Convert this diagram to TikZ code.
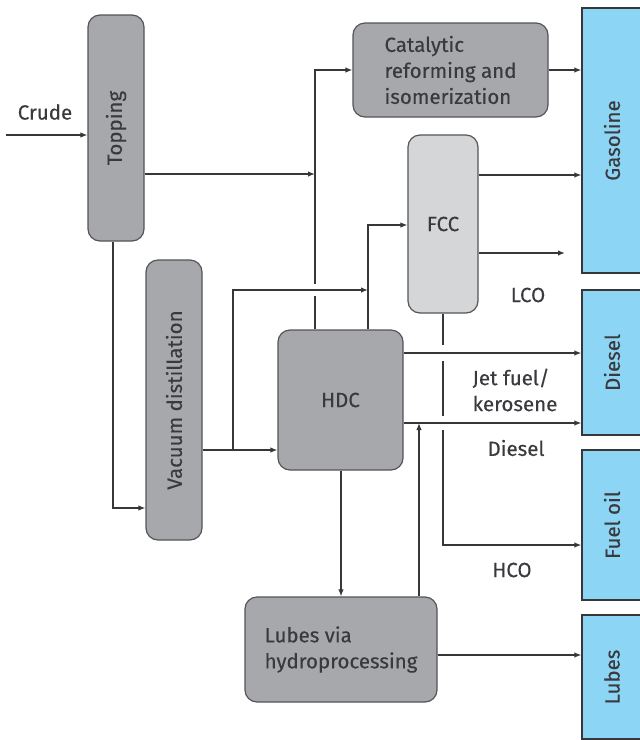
\documentclass[tikz,border=0pt]{standalone}
\usepackage{fontspec}
\setmainfont{Fira Sans}[UprightFeatures={FakeBold=0.3}]
\usetikzlibrary{arrows.meta}
\definecolor{unitgray}{RGB}{167,168,172}
\definecolor{fccgray}{RGB}{213,214,216}
\definecolor{edgegray}{RGB}{85,85,88}
\definecolor{linegray}{RGB}{55,55,58}
\definecolor{textgray}{RGB}{58,58,62}
\definecolor{prodblue}{RGB}{141,213,245}
\newcommand{\flowfont}{\fontsize{20.5}{26}\selectfont}
\tikzset{
  unit/.style={draw=edgegray, line width=1.2pt, fill=unitgray, rounded corners=12pt,
               inner sep=0pt, text=textgray, font=\flowfont},
  product/.style={draw=linegray, line width=1.3pt, fill=prodblue, inner sep=0pt,
                  text=textgray, font=\flowfont},
  flow/.style={draw=linegray, line width=1.3pt, -{Latex[length=7pt,width=5.5pt]}},
  lbl/.style={text=textgray, inner sep=0pt, font=\flowfont}
}
\begin{document}
\begin{tikzpicture}[x=1pt,y=-1pt]
\useasboundingbox (0,0) rectangle (640,740);

% process units
\node[unit, minimum width=56pt, minimum height=226pt] (top) at (116,128) {\rotatebox{90}{Topping}};
\node[unit, minimum width=195pt, minimum height=94pt, align=left] (cat) at (450.5,70)
  {Catalytic\\reforming and\\isomerization};
\node[unit, fill=fccgray, minimum width=70pt, minimum height=178pt] (fcc) at (443,224) {FCC};
\node[unit, minimum width=56pt, minimum height=280pt] (vac) at (174,400) {\rotatebox{90}{Vacuum distillation}};
\node[unit, minimum width=125pt, minimum height=140pt] (hdc) at (340.5,400) {HDC};
\node[unit, minimum width=192pt, minimum height=105pt, align=left] (lpr) at (341,649.5)
  {Lubes via\\hydroprocessing};

% product pools
\node[product, minimum width=60pt, minimum height=265pt] (gas) at (612,140.5) {\rotatebox{90}{Gasoline}};
\node[product, minimum width=60pt, minimum height=145pt] (die) at (612,362.5) {\rotatebox{90}{Diesel}};
\node[product, minimum width=60pt, minimum height=150pt] (fue) at (612,525) {\rotatebox{90}{Fuel oil}};
\node[product, minimum width=60pt, minimum height=124pt] (lub) at (612,677) {\rotatebox{90}{Lubes}};

% stream labels
\node[lbl] (crude) at (45,112) {Crude};
\node[lbl] (lco) at (528,295) {LCO};
\node[lbl, align=left] (jet) at (515,390) {Jet fuel/\\kerosene};
\node[lbl] (dsl) at (516,448) {Diesel};
\node[lbl] (hco) at (512,570) {HCO};

% junctions and free ends
\coordinate (crudeIn) at (6,135);
\coordinate (jtop) at (315,174);
\coordinate (split) at (233,450);
\coordinate (lcoEnd) at (565,253);

% lines that are crossed by others
\draw[flow] (hdc.north -| jtop) |- (cat.west);
\draw[flow] (fcc.south) |- (fue.west |- 0,545);
\fill[white] (312,284) rectangle (318,296);
\fill[white] (440,345) rectangle (446,361);
\fill[white] (440,416) rectangle (446,430);

% remaining streams
\draw[flow] (crudeIn) -- (top.west |- crudeIn);
\draw[flow] (top.east |- jtop) -- (jtop);
\draw[flow] (cat.east) -- (cat.east -| gas.west);
\draw[flow] (fcc.east |- 0,175) -- (gas.west |- 0,175);
\draw[flow] (fcc.east |- lcoEnd) -- (lcoEnd);
\draw[flow] (hdc.north -| 368,0) |- (fcc.west |- 0,225);
\draw[flow] (top.south -| 113,0) |- (vac.west |- 0,508);
\draw[flow] (vac.east |- split) -- (hdc.west |- split);
\draw[flow] (split) |- (368,290);
\draw[flow] (hdc.east |- 0,353) -- (die.west |- 0,353);
\draw[flow] (hdc.east |- 0,423) -- (die.west |- 0,423);
\draw[flow] (hdc.south -| 341,0) -- (lpr.north -| 341,0);
\draw[flow] (lpr.north -| 419,0) -- (419,423);
\draw[flow] (lpr.east |- 0,655) -- (lub.west |- 0,655);
\end{tikzpicture}
\end{document}
